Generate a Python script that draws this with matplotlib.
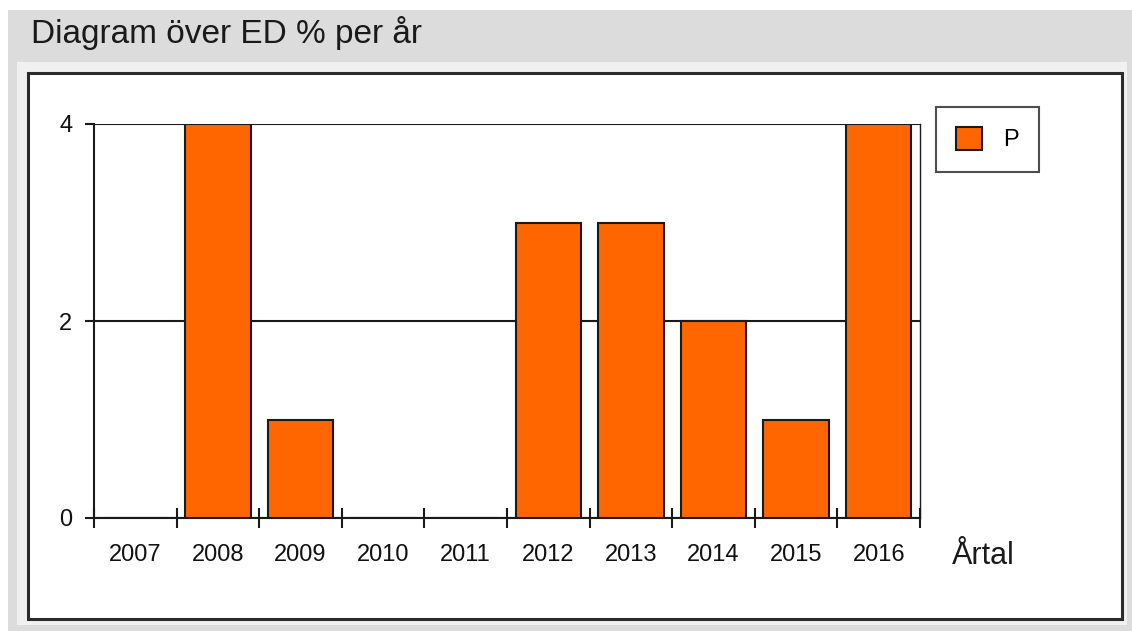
import numpy as np
import matplotlib
matplotlib.use("Agg")
import matplotlib.pyplot as plt
from matplotlib.patches import Rectangle

# data
years = ["2007", "2008", "2009", "2010", "2011", "2012", "2013", "2014", "2015", "2016"]
values = [0, 4, 1, 0, 0, 3, 3, 2, 1, 4]
series_name = "P"
y_ticks = [0, 2, 4]

W, H = 1132, 631
plt.rcParams["font.family"] = ["Liberation Sans", "DejaVu Sans"]

fig = plt.figure(figsize=(W / 100, H / 100), dpi=100, facecolor="white")


def px_box(x0, y0, x1, y1):
    # pixel box (origin top-left) -> figure fraction
    return (x0 / W, 1 - y1 / H), (x1 - x0) / W, (y1 - y0) / H


# window-like background: gray header, light panel, framed white area
panels = [
    ((8, 10, 1132, 631), "#dcdcdc", "none", 0),
    ((17, 62, 1127, 625), "#f0f0f0", "none", 0),
    ((28, 73, 1122, 619), "white", "#2b2b2b", 2.2),
]
for coords, fc, ec, lw in panels:
    xy, w, h = px_box(*coords)
    fig.patches.append(Rectangle(xy, w, h, transform=fig.transFigure,
                                 facecolor=fc, edgecolor=ec, linewidth=lw,
                                 zorder=-10))

fig.text(31 / W, 1 - 33 / H, "Diagram över ED % per år", fontsize=24,
         ha="left", va="center", color="#1a1a1a")

ax = fig.add_axes([94 / W, 1 - 518 / H, (920 - 94) / W, (518 - 124) / H])
ax.patch.set_alpha(0)

x = np.arange(len(years)) + 0.5
ax.bar(x, values, width=0.79, color="#ff6600", edgecolor="#1a1a1a",
       linewidth=1.5, label=series_name, zorder=3)

ax.set_xlim(0, len(years))
ax.set_ylim(0, max(y_ticks))
ax.set_yticks(y_ticks)
ax.yaxis.grid(True, color="#1a1a1a", linewidth=1.5)
ax.set_axisbelow(True)

ax.set_xticks(np.arange(len(years) + 1))
ax.set_xticklabels([])
ax.set_xticks(x, minor=True)
ax.set_xticklabels(years, minor=True)
ax.tick_params(axis="x", which="major", direction="inout", length=14,
               width=1.5, color="#1a1a1a")
ax.tick_params(axis="x", which="minor", length=0, pad=18.5, labelsize=17,
               labelcolor="#111111")
ax.tick_params(axis="y", direction="out", length=6.5, width=1.5, pad=9,
               labelsize=17, color="#1a1a1a", labelcolor="#111111")

ax.spines["top"].set_visible(False)
for side in ["left", "bottom"]:
    ax.spines[side].set_linewidth(1.5)
    ax.spines[side].set_color("#1a1a1a")
ax.spines["right"].set_linewidth(1.0)
ax.spines["right"].set_color("#1a1a1a")

fig.text(952 / W, 1 - 556 / H, "Årtal", fontsize=22, ha="left", va="center",
         color="#1a1a1a")

leg = ax.legend(loc="upper left", bbox_to_anchor=(936 / W, 1 - 107 / H),
                bbox_transform=fig.transFigure, fontsize=17, frameon=True,
                fancybox=False, edgecolor="#222222", handlelength=1.1,
                handleheight=1.1, borderpad=0.85, handletextpad=0.9,
                borderaxespad=0)
leg.get_frame().set_linewidth(1.5)

fig.savefig("out.png", dpi=100)
